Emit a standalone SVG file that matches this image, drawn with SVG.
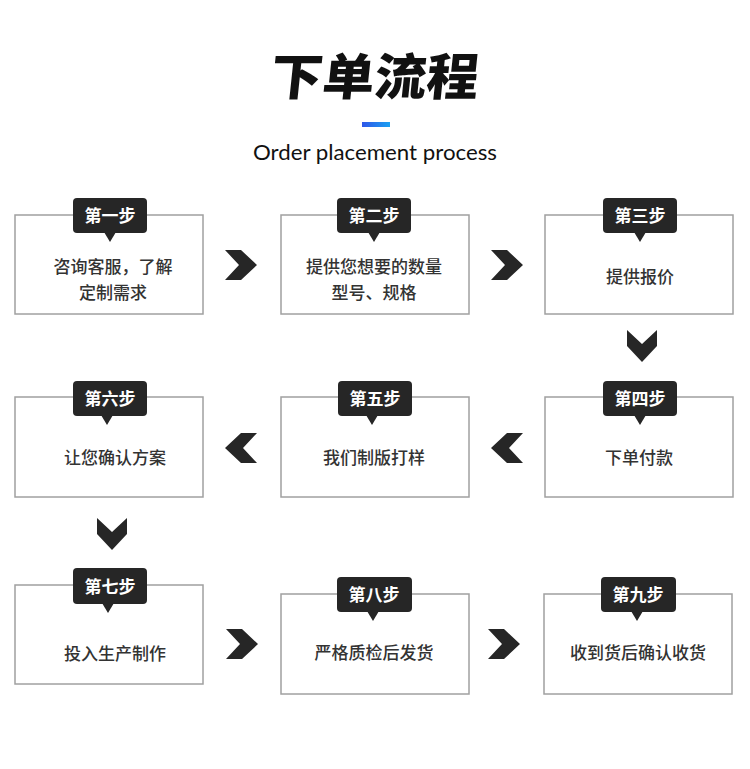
<svg xmlns="http://www.w3.org/2000/svg" width="750" height="769" viewBox="0 0 750 769">
<defs>
<linearGradient id="bar" x1="0" y1="0" x2="1" y2="0">
<stop offset="0" stop-color="#2f56e8"/>
<stop offset="1" stop-color="#1aa0f2"/>
</linearGradient>
<path id="rchev" d="M0,0 L16,0 L32,15 L16,30 L0,30 L14,15 Z"/>
<path id="dchev" d="M0,0 L15,14 L30,0 L30,16 L15,32 L0,16 Z"/>
</defs>
<style>
.box{fill:#fff;stroke:#a0a0a0;stroke-width:1.5}
.tag{fill:#262626}
.tagt{fill:#fff;font-family:"Noto Sans CJK SC","Noto Sans",sans-serif;font-size:17px;font-weight:700;text-anchor:middle;dominant-baseline:central}
.txt{fill:#333;font-family:"Noto Sans CJK SC","Noto Sans",sans-serif;font-size:17px;font-weight:500;text-anchor:middle;dominant-baseline:central}
.chev{fill:#262626}
</style>
<rect width="750" height="769" fill="#fff"/>
<g id="title">
<text x="375" y="73" transform="skewX(-6) translate(8,0)" font-family="'Noto Sans CJK SC',sans-serif" font-weight="900" font-size="50" fill="#111" text-anchor="middle" dominant-baseline="central" textLength="208" lengthAdjust="spacingAndGlyphs">下单流程</text>
<rect x="362" y="122" width="28" height="5" fill="url(#bar)"/>
<text x="375" y="160" font-family="Lato,'Liberation Sans',sans-serif" font-weight="400" font-size="22" fill="#111" text-anchor="middle" textLength="244" lengthAdjust="spacingAndGlyphs">Order placement process</text>
</g>
<g id="step1">
<rect class="box" x="15" y="215" width="188" height="99"/>
<rect class="tag" x="73" y="198" width="74" height="35" rx="4"/>
<path class="tag" d="M104,232 L110,242 L116,232 Z"/>
<text class="tagt" x="110" y="214">第一步</text>
<text class="txt" x="113" y="265">咨询客服，了解</text>
<text class="txt" x="113" y="291">定制需求</text>
</g>
<g id="step2">
<rect class="box" x="281" y="215" width="188" height="99"/>
<rect class="tag" x="337" y="198" width="74" height="35" rx="4"/>
<path class="tag" d="M368,232 L374,242 L380,232 Z"/>
<text class="tagt" x="374" y="214">第二步</text>
<text class="txt" x="374" y="265">提供您想要的数量</text>
<text class="txt" x="374" y="291">型号、规格</text>
</g>
<g id="step3">
<rect class="box" x="545" y="215" width="188" height="99"/>
<rect class="tag" x="603" y="198" width="74" height="35" rx="4"/>
<path class="tag" d="M634,232 L640,242 L646,232 Z"/>
<text class="tagt" x="640" y="214">第三步</text>
<text class="txt" x="640" y="275">提供报价</text>
</g>
<g id="step4">
<rect class="box" x="545" y="397" width="188" height="100"/>
<rect class="tag" x="603" y="381" width="74" height="35" rx="4"/>
<path class="tag" d="M634,415 L640,425 L646,415 Z"/>
<text class="tagt" x="640" y="397">第四步</text>
<text class="txt" x="639" y="456">下单付款</text>
</g>
<g id="step5">
<rect class="box" x="281" y="397" width="188" height="100"/>
<rect class="tag" x="338" y="381" width="74" height="35" rx="4"/>
<path class="tag" d="M366,415 L372,425 L378,415 Z"/>
<text class="tagt" x="375" y="397">第五步</text>
<text class="txt" x="374" y="456">我们制版打样</text>
</g>
<g id="step6">
<rect class="box" x="15" y="397" width="188" height="100"/>
<rect class="tag" x="73" y="381" width="74" height="35" rx="4"/>
<path class="tag" d="M101,415 L107,425 L113,415 Z"/>
<text class="tagt" x="110" y="397">第六步</text>
<text class="txt" x="115" y="456">让您确认方案</text>
</g>
<g id="step7">
<rect class="box" x="15" y="585" width="188" height="99"/>
<rect class="tag" x="73" y="568" width="74" height="36" rx="4"/>
<path class="tag" d="M102,603 L108,613 L114,603 Z"/>
<text class="tagt" x="110" y="585">第七步</text>
<text class="txt" x="115" y="652">投入生产制作</text>
</g>
<g id="step8">
<rect class="box" x="281" y="594" width="188" height="100"/>
<rect class="tag" x="337" y="577" width="75" height="35" rx="4"/>
<path class="tag" d="M367,611 L373,621 L379,611 Z"/>
<text class="tagt" x="374" y="593">第八步</text>
<text class="txt" x="374" y="651">严格质检后发货</text>
</g>
<g id="step9">
<rect class="box" x="544" y="594" width="188" height="100"/>
<rect class="tag" x="601" y="577" width="75" height="35" rx="4"/>
<path class="tag" d="M631,611 L637,621 L643,611 Z"/>
<text class="tagt" x="638" y="593">第九步</text>
<text class="txt" x="638" y="651">收到货后确认收货</text>
</g>
<g id="connectors" class="chev">
<use href="#rchev" x="225" y="250"/>
<use href="#rchev" x="491" y="250"/>
<use href="#dchev" x="627" y="330"/>
<use href="#rchev" transform="translate(523,433) scale(-1,1)"/>
<use href="#rchev" transform="translate(257,433) scale(-1,1)"/>
<use href="#dchev" x="97" y="518"/>
<use href="#rchev" x="226" y="629"/>
<use href="#rchev" x="488" y="629"/>
</g>
</svg>
